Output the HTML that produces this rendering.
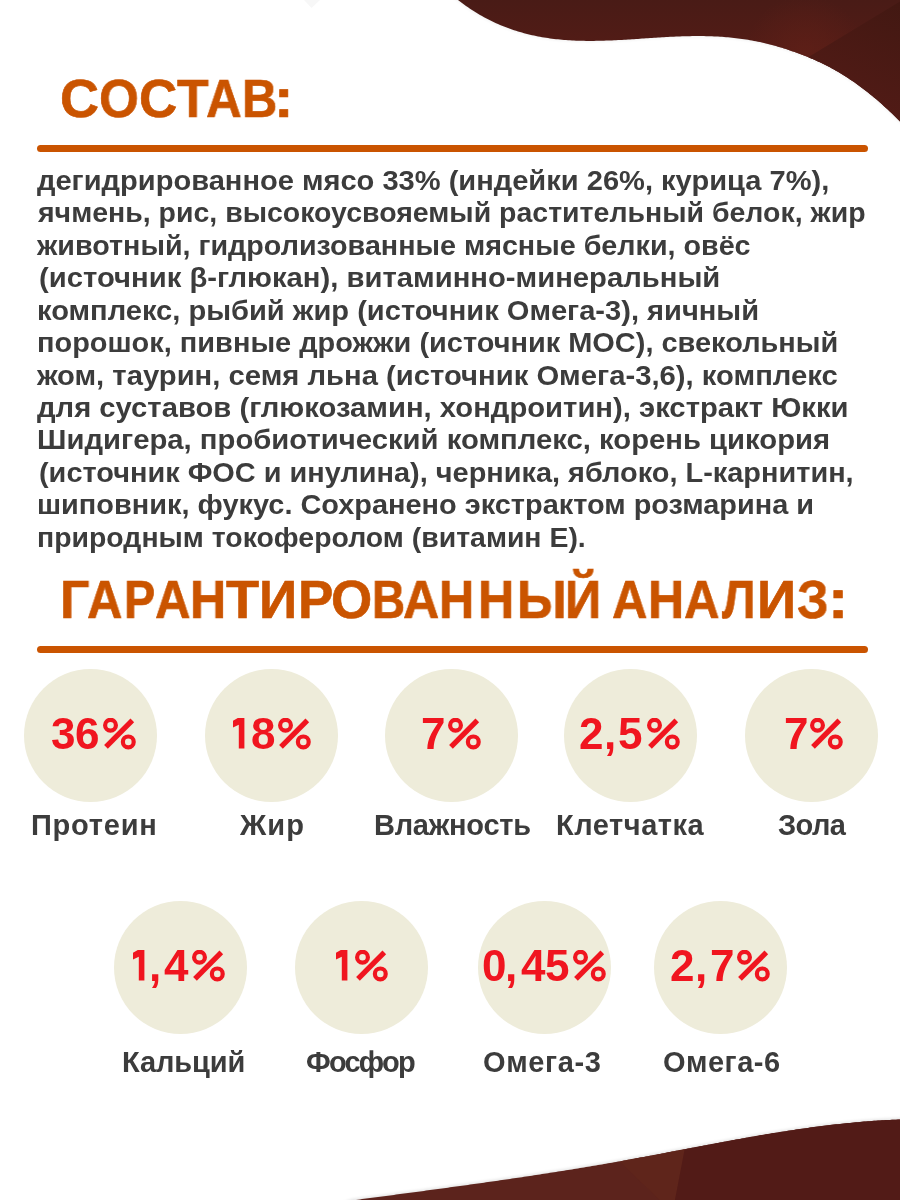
<!DOCTYPE html>
<html><head><meta charset="utf-8">
<style>
html,body{margin:0;padding:0;background:#fff;}
body{width:900px;height:1200px;position:relative;overflow:hidden;-webkit-font-smoothing:antialiased;font-family:"Liberation Sans",sans-serif;font-weight:bold;}
div,svg{position:absolute;}
.t,.l,.h,.p{will-change:transform;}
.h{white-space:nowrap;color:#CA5400;-webkit-text-stroke:0.6px #CA5400;font-size:53px;line-height:53px;transform-origin:0 0;}
.bar{left:37px;width:831px;height:7px;border-radius:3.5px;background:#CA5400;}
.t{font-size:28px;line-height:28px;color:#3c3c3c;white-space:nowrap;}
.c{width:133px;height:133px;border-radius:50%;background:#EEECDA;}
.p{color:#F0151F;white-space:nowrap;font-size:44px;line-height:44px;}
.l{color:#3c3c3c;white-space:nowrap;}
</style></head><body>
<svg style="left:0;top:0" width="900" height="1200" viewBox="0 0 900 1200">
  <defs>
   <linearGradient id="gt" gradientUnits="userSpaceOnUse" x1="0" y1="0" x2="0" y2="60"><stop offset="0" stop-color="#491B16"/><stop offset="1" stop-color="#551C16"/></linearGradient>
   <radialGradient id="gh" gradientUnits="userSpaceOnUse" cx="805" cy="55" r="60"><stop offset="0" stop-color="#5E1F17" stop-opacity="0.9"/><stop offset="1" stop-color="#5E1F17" stop-opacity="0"/></radialGradient>
   <linearGradient id="gd" gradientUnits="userSpaceOnUse" x1="900" y1="0" x2="850" y2="110"><stop offset="0" stop-color="#421812"/><stop offset="1" stop-color="#521B16"/></linearGradient>
   <filter id="sh" x="-5%" y="-50%" width="110%" height="200%"><feGaussianBlur stdDeviation="1.6"/></filter>
   <clipPath id="ct"><path d="M450.0,-5.00 456.0,-1.47 458.0,0.10 460.0,1.62 462.0,3.12 464.0,4.57 466.0,5.99 468.0,7.37 470.0,8.72 472.0,10.03 474.0,11.30 476.0,12.54 478.0,13.75 480.0,14.92 482.0,16.06 484.0,17.17 486.0,18.25 488.0,19.29 490.0,20.30 492.0,21.28 494.0,22.23 496.0,23.15 498.0,24.04 500.0,24.91 502.0,25.74 504.0,26.55 506.0,27.32 508.0,28.08 510.0,28.80 512.0,29.50 514.0,30.17 516.0,30.82 518.0,31.44 520.0,32.04 522.0,32.61 524.0,33.16 526.0,33.69 528.0,34.19 530.0,34.67 532.0,35.13 534.0,35.57 536.0,35.99 538.0,36.39 540.0,36.77 542.0,37.13 544.0,37.47 546.0,37.79 548.0,38.09 550.0,38.38 552.0,38.65 554.0,38.90 556.0,39.13 558.0,39.35 560.0,39.55 562.0,39.74 564.0,39.91 566.0,40.06 568.0,40.20 570.0,40.33 572.0,40.44 574.0,40.54 576.0,40.63 578.0,40.70 580.0,40.77 582.0,40.82 584.0,40.86 586.0,40.88 588.0,40.90 590.0,40.91 592.0,40.90 594.0,40.89 596.0,40.86 598.0,40.83 600.0,40.79 602.0,40.74 604.0,40.69 606.0,40.62 608.0,40.55 610.0,40.47 612.0,40.39 614.0,40.30 616.0,40.20 618.0,40.10 620.0,40.00 622.0,39.89 624.0,39.77 626.0,39.66 628.0,39.53 630.0,39.41 632.0,39.28 634.0,39.15 636.0,39.02 638.0,38.89 640.0,38.76 642.0,38.62 644.0,38.49 646.0,38.35 648.0,38.22 650.0,38.08 652.0,37.95 654.0,37.82 656.0,37.69 658.0,37.56 660.0,37.44 662.0,37.32 664.0,37.20 666.0,37.09 668.0,36.97 670.0,36.87 672.0,36.77 674.0,36.67 676.0,36.58 678.0,36.50 680.0,36.42 682.0,36.35 684.0,36.28 686.0,36.23 688.0,36.18 690.0,36.14 692.0,36.10 694.0,36.08 696.0,36.07 698.0,36.06 700.0,36.07 702.0,36.08 704.0,36.11 706.0,36.15 708.0,36.20 710.0,36.26 712.0,36.33 714.0,36.41 716.0,36.51 718.0,36.61 720.0,36.73 722.0,36.87 724.0,37.01 726.0,37.17 728.0,37.34 730.0,37.53 732.0,37.73 734.0,37.94 736.0,38.17 738.0,38.41 740.0,38.67 742.0,38.94 744.0,39.23 746.0,39.53 748.0,39.85 750.0,40.18 752.0,40.53 754.0,40.90 756.0,41.28 758.0,41.68 760.0,42.10 762.0,42.53 764.0,42.99 766.0,43.45 768.0,43.94 770.0,44.45 772.0,44.97 774.0,45.51 776.0,46.07 778.0,46.65 780.0,47.24 782.0,47.85 784.0,48.48 786.0,49.12 788.0,49.77 790.0,50.45 792.0,51.13 794.0,51.83 796.0,52.55 798.0,53.27 800.0,54.01 802.0,54.77 804.0,55.53 806.0,56.32 808.0,57.11 810.0,57.93 812.0,58.76 814.0,59.62 816.0,60.50 818.0,61.40 820.0,62.32 822.0,63.27 824.0,64.24 826.0,65.25 828.0,66.28 830.0,67.33 832.0,68.41 834.0,69.52 836.0,70.66 838.0,71.82 840.0,73.02 842.0,74.23 844.0,75.48 846.0,76.75 848.0,78.05 850.0,79.38 852.0,80.73 854.0,82.11 856.0,83.52 858.0,84.96 860.0,86.42 862.0,87.91 864.0,89.43 866.0,90.97 868.0,92.55 870.0,94.15 872.0,95.77 874.0,97.43 876.0,99.11 878.0,100.83 880.0,102.57 882.0,104.33 884.0,106.13 886.0,107.95 888.0,109.80 890.0,111.68 892.0,113.59 894.0,115.52 896.0,117.48 898.0,119.47 900.0,121.49 L905,125 L905,-5 Z"/></clipPath>
   <clipPath id="cb"><path d="M340.0,1205.00 352.0,1200.44 354.0,1200.17 356.0,1199.91 358.0,1199.64 360.0,1199.38 362.0,1199.11 364.0,1198.85 366.0,1198.58 368.0,1198.32 370.0,1198.05 372.0,1197.79 374.0,1197.52 376.0,1197.26 378.0,1196.99 380.0,1196.73 382.0,1196.47 384.0,1196.20 386.0,1195.94 388.0,1195.67 390.0,1195.41 392.0,1195.14 394.0,1194.88 396.0,1194.61 398.0,1194.35 400.0,1194.08 402.0,1193.81 404.0,1193.55 406.0,1193.28 408.0,1193.02 410.0,1192.75 412.0,1192.48 414.0,1192.22 416.0,1191.95 418.0,1191.68 420.0,1191.41 422.0,1191.15 424.0,1190.88 426.0,1190.61 428.0,1190.34 430.0,1190.07 432.0,1189.80 434.0,1189.53 436.0,1189.26 438.0,1188.99 440.0,1188.72 442.0,1188.45 444.0,1188.18 446.0,1187.90 448.0,1187.63 450.0,1187.36 452.0,1187.08 454.0,1186.81 456.0,1186.54 458.0,1186.26 460.0,1185.98 462.0,1185.71 464.0,1185.43 466.0,1185.15 468.0,1184.88 470.0,1184.60 472.0,1184.32 474.0,1184.04 476.0,1183.76 478.0,1183.48 480.0,1183.20 482.0,1182.92 484.0,1182.63 486.0,1182.35 488.0,1182.07 490.0,1181.78 492.0,1181.50 494.0,1181.21 496.0,1180.92 498.0,1180.64 500.0,1180.35 502.0,1180.06 504.0,1179.77 506.0,1179.48 508.0,1179.19 510.0,1178.90 512.0,1178.60 514.0,1178.31 516.0,1178.01 518.0,1177.72 520.0,1177.42 522.0,1177.13 524.0,1176.83 526.0,1176.53 528.0,1176.23 530.0,1175.93 532.0,1175.63 534.0,1175.32 536.0,1175.02 538.0,1174.71 540.0,1174.41 542.0,1174.10 544.0,1173.80 546.0,1173.49 548.0,1173.18 550.0,1172.87 552.0,1172.55 554.0,1172.24 556.0,1171.93 558.0,1171.61 560.0,1171.30 562.0,1170.98 564.0,1170.66 566.0,1170.34 568.0,1170.02 570.0,1169.70 572.0,1169.38 574.0,1169.05 576.0,1168.73 578.0,1168.40 580.0,1168.07 582.0,1167.74 584.0,1167.41 586.0,1167.08 588.0,1166.75 590.0,1166.42 592.0,1166.08 594.0,1165.74 596.0,1165.41 598.0,1165.07 600.0,1164.73 602.0,1164.38 604.0,1164.04 606.0,1163.70 608.0,1163.35 610.0,1163.00 612.0,1162.65 614.0,1162.30 616.0,1161.95 618.0,1161.60 620.0,1161.24 622.0,1160.89 624.0,1160.53 626.0,1160.17 628.0,1159.81 630.0,1159.45 632.0,1159.08 634.0,1158.72 636.0,1158.35 638.0,1157.99 640.0,1157.62 642.0,1157.25 644.0,1156.88 646.0,1156.51 648.0,1156.13 650.0,1155.76 652.0,1155.39 654.0,1155.01 656.0,1154.64 658.0,1154.26 660.0,1153.88 662.0,1153.50 664.0,1153.13 666.0,1152.75 668.0,1152.37 670.0,1151.99 672.0,1151.61 674.0,1151.23 676.0,1150.85 678.0,1150.47 680.0,1150.09 682.0,1149.71 684.0,1149.33 686.0,1148.95 688.0,1148.57 690.0,1148.18 692.0,1147.80 694.0,1147.42 696.0,1147.05 698.0,1146.67 700.0,1146.29 702.0,1145.91 704.0,1145.53 706.0,1145.15 708.0,1144.78 710.0,1144.40 712.0,1144.03 714.0,1143.65 716.0,1143.28 718.0,1142.91 720.0,1142.53 722.0,1142.16 724.0,1141.79 726.0,1141.42 728.0,1141.06 730.0,1140.69 732.0,1140.33 734.0,1139.96 736.0,1139.60 738.0,1139.24 740.0,1138.88 742.0,1138.52 744.0,1138.16 746.0,1137.81 748.0,1137.46 750.0,1137.10 752.0,1136.75 754.0,1136.41 756.0,1136.06 758.0,1135.72 760.0,1135.37 762.0,1135.03 764.0,1134.70 766.0,1134.36 768.0,1134.03 770.0,1133.70 772.0,1133.37 774.0,1133.04 776.0,1132.72 778.0,1132.39 780.0,1132.07 782.0,1131.76 784.0,1131.44 786.0,1131.13 788.0,1130.82 790.0,1130.52 792.0,1130.21 794.0,1129.91 796.0,1129.62 798.0,1129.32 800.0,1129.03 802.0,1128.74 804.0,1128.46 806.0,1128.17 808.0,1127.89 810.0,1127.62 812.0,1127.35 814.0,1127.08 816.0,1126.81 818.0,1126.55 820.0,1126.29 822.0,1126.04 824.0,1125.79 826.0,1125.54 828.0,1125.30 830.0,1125.06 832.0,1124.82 834.0,1124.59 836.0,1124.36 838.0,1124.14 840.0,1123.92 842.0,1123.70 844.0,1123.49 846.0,1123.28 848.0,1123.08 850.0,1122.88 852.0,1122.69 854.0,1122.50 856.0,1122.31 858.0,1122.13 860.0,1121.95 862.0,1121.78 864.0,1121.62 866.0,1121.45 868.0,1121.30 870.0,1121.14 872.0,1121.00 874.0,1120.85 876.0,1120.72 878.0,1120.58 880.0,1120.46 882.0,1120.33 884.0,1120.22 886.0,1120.11 888.0,1120.00 890.0,1119.90 892.0,1119.80 894.0,1119.71 896.0,1119.63 898.0,1119.55 900.0,1119.48 L905,1119 L905,1205 Z"/></clipPath>
  </defs>
  <path d="M304,0 L320,0 L311.5,8 Z" fill="#f7f7f7"/>
  <path d="M450.0,-5.00 456.0,-1.47 458.0,0.10 460.0,1.62 462.0,3.12 464.0,4.57 466.0,5.99 468.0,7.37 470.0,8.72 472.0,10.03 474.0,11.30 476.0,12.54 478.0,13.75 480.0,14.92 482.0,16.06 484.0,17.17 486.0,18.25 488.0,19.29 490.0,20.30 492.0,21.28 494.0,22.23 496.0,23.15 498.0,24.04 500.0,24.91 502.0,25.74 504.0,26.55 506.0,27.32 508.0,28.08 510.0,28.80 512.0,29.50 514.0,30.17 516.0,30.82 518.0,31.44 520.0,32.04 522.0,32.61 524.0,33.16 526.0,33.69 528.0,34.19 530.0,34.67 532.0,35.13 534.0,35.57 536.0,35.99 538.0,36.39 540.0,36.77 542.0,37.13 544.0,37.47 546.0,37.79 548.0,38.09 550.0,38.38 552.0,38.65 554.0,38.90 556.0,39.13 558.0,39.35 560.0,39.55 562.0,39.74 564.0,39.91 566.0,40.06 568.0,40.20 570.0,40.33 572.0,40.44 574.0,40.54 576.0,40.63 578.0,40.70 580.0,40.77 582.0,40.82 584.0,40.86 586.0,40.88 588.0,40.90 590.0,40.91 592.0,40.90 594.0,40.89 596.0,40.86 598.0,40.83 600.0,40.79 602.0,40.74 604.0,40.69 606.0,40.62 608.0,40.55 610.0,40.47 612.0,40.39 614.0,40.30 616.0,40.20 618.0,40.10 620.0,40.00 622.0,39.89 624.0,39.77 626.0,39.66 628.0,39.53 630.0,39.41 632.0,39.28 634.0,39.15 636.0,39.02 638.0,38.89 640.0,38.76 642.0,38.62 644.0,38.49 646.0,38.35 648.0,38.22 650.0,38.08 652.0,37.95 654.0,37.82 656.0,37.69 658.0,37.56 660.0,37.44 662.0,37.32 664.0,37.20 666.0,37.09 668.0,36.97 670.0,36.87 672.0,36.77 674.0,36.67 676.0,36.58 678.0,36.50 680.0,36.42 682.0,36.35 684.0,36.28 686.0,36.23 688.0,36.18 690.0,36.14 692.0,36.10 694.0,36.08 696.0,36.07 698.0,36.06 700.0,36.07 702.0,36.08 704.0,36.11 706.0,36.15 708.0,36.20 710.0,36.26 712.0,36.33 714.0,36.41 716.0,36.51 718.0,36.61 720.0,36.73 722.0,36.87 724.0,37.01 726.0,37.17 728.0,37.34 730.0,37.53 732.0,37.73 734.0,37.94 736.0,38.17 738.0,38.41 740.0,38.67 742.0,38.94 744.0,39.23 746.0,39.53 748.0,39.85 750.0,40.18 752.0,40.53 754.0,40.90 756.0,41.28 758.0,41.68 760.0,42.10 762.0,42.53 764.0,42.99 766.0,43.45 768.0,43.94 770.0,44.45 772.0,44.97 774.0,45.51 776.0,46.07 778.0,46.65 780.0,47.24 782.0,47.85 784.0,48.48 786.0,49.12 788.0,49.77 790.0,50.45 792.0,51.13 794.0,51.83 796.0,52.55 798.0,53.27 800.0,54.01 802.0,54.77 804.0,55.53 806.0,56.32 808.0,57.11 810.0,57.93 812.0,58.76 814.0,59.62 816.0,60.50 818.0,61.40 820.0,62.32 822.0,63.27 824.0,64.24 826.0,65.25 828.0,66.28 830.0,67.33 832.0,68.41 834.0,69.52 836.0,70.66 838.0,71.82 840.0,73.02 842.0,74.23 844.0,75.48 846.0,76.75 848.0,78.05 850.0,79.38 852.0,80.73 854.0,82.11 856.0,83.52 858.0,84.96 860.0,86.42 862.0,87.91 864.0,89.43 866.0,90.97 868.0,92.55 870.0,94.15 872.0,95.77 874.0,97.43 876.0,99.11 878.0,100.83 880.0,102.57 882.0,104.33 884.0,106.13 886.0,107.95 888.0,109.80 890.0,111.68 892.0,113.59 894.0,115.52 896.0,117.48 898.0,119.47 900.0,121.49 L905,125 L905,-5 Z" fill="#000" opacity="0.05" filter="url(#sh)" transform="translate(-0.5,1)"/>
  <path d="M450.0,-5.00 456.0,-1.47 458.0,0.10 460.0,1.62 462.0,3.12 464.0,4.57 466.0,5.99 468.0,7.37 470.0,8.72 472.0,10.03 474.0,11.30 476.0,12.54 478.0,13.75 480.0,14.92 482.0,16.06 484.0,17.17 486.0,18.25 488.0,19.29 490.0,20.30 492.0,21.28 494.0,22.23 496.0,23.15 498.0,24.04 500.0,24.91 502.0,25.74 504.0,26.55 506.0,27.32 508.0,28.08 510.0,28.80 512.0,29.50 514.0,30.17 516.0,30.82 518.0,31.44 520.0,32.04 522.0,32.61 524.0,33.16 526.0,33.69 528.0,34.19 530.0,34.67 532.0,35.13 534.0,35.57 536.0,35.99 538.0,36.39 540.0,36.77 542.0,37.13 544.0,37.47 546.0,37.79 548.0,38.09 550.0,38.38 552.0,38.65 554.0,38.90 556.0,39.13 558.0,39.35 560.0,39.55 562.0,39.74 564.0,39.91 566.0,40.06 568.0,40.20 570.0,40.33 572.0,40.44 574.0,40.54 576.0,40.63 578.0,40.70 580.0,40.77 582.0,40.82 584.0,40.86 586.0,40.88 588.0,40.90 590.0,40.91 592.0,40.90 594.0,40.89 596.0,40.86 598.0,40.83 600.0,40.79 602.0,40.74 604.0,40.69 606.0,40.62 608.0,40.55 610.0,40.47 612.0,40.39 614.0,40.30 616.0,40.20 618.0,40.10 620.0,40.00 622.0,39.89 624.0,39.77 626.0,39.66 628.0,39.53 630.0,39.41 632.0,39.28 634.0,39.15 636.0,39.02 638.0,38.89 640.0,38.76 642.0,38.62 644.0,38.49 646.0,38.35 648.0,38.22 650.0,38.08 652.0,37.95 654.0,37.82 656.0,37.69 658.0,37.56 660.0,37.44 662.0,37.32 664.0,37.20 666.0,37.09 668.0,36.97 670.0,36.87 672.0,36.77 674.0,36.67 676.0,36.58 678.0,36.50 680.0,36.42 682.0,36.35 684.0,36.28 686.0,36.23 688.0,36.18 690.0,36.14 692.0,36.10 694.0,36.08 696.0,36.07 698.0,36.06 700.0,36.07 702.0,36.08 704.0,36.11 706.0,36.15 708.0,36.20 710.0,36.26 712.0,36.33 714.0,36.41 716.0,36.51 718.0,36.61 720.0,36.73 722.0,36.87 724.0,37.01 726.0,37.17 728.0,37.34 730.0,37.53 732.0,37.73 734.0,37.94 736.0,38.17 738.0,38.41 740.0,38.67 742.0,38.94 744.0,39.23 746.0,39.53 748.0,39.85 750.0,40.18 752.0,40.53 754.0,40.90 756.0,41.28 758.0,41.68 760.0,42.10 762.0,42.53 764.0,42.99 766.0,43.45 768.0,43.94 770.0,44.45 772.0,44.97 774.0,45.51 776.0,46.07 778.0,46.65 780.0,47.24 782.0,47.85 784.0,48.48 786.0,49.12 788.0,49.77 790.0,50.45 792.0,51.13 794.0,51.83 796.0,52.55 798.0,53.27 800.0,54.01 802.0,54.77 804.0,55.53 806.0,56.32 808.0,57.11 810.0,57.93 812.0,58.76 814.0,59.62 816.0,60.50 818.0,61.40 820.0,62.32 822.0,63.27 824.0,64.24 826.0,65.25 828.0,66.28 830.0,67.33 832.0,68.41 834.0,69.52 836.0,70.66 838.0,71.82 840.0,73.02 842.0,74.23 844.0,75.48 846.0,76.75 848.0,78.05 850.0,79.38 852.0,80.73 854.0,82.11 856.0,83.52 858.0,84.96 860.0,86.42 862.0,87.91 864.0,89.43 866.0,90.97 868.0,92.55 870.0,94.15 872.0,95.77 874.0,97.43 876.0,99.11 878.0,100.83 880.0,102.57 882.0,104.33 884.0,106.13 886.0,107.95 888.0,109.80 890.0,111.68 892.0,113.59 894.0,115.52 896.0,117.48 898.0,119.47 900.0,121.49 L905,125 L905,-5 Z" fill="url(#gt)"/>
  <g clip-path="url(#ct)"><rect x="700" y="0" width="200" height="130" fill="url(#gh)"/><path d="M790,70 L811,55.5 L900,1.5 L900,200 L790,200 Z" fill="url(#gd)"/></g>
  <path d="M340.0,1205.00 352.0,1200.44 354.0,1200.17 356.0,1199.91 358.0,1199.64 360.0,1199.38 362.0,1199.11 364.0,1198.85 366.0,1198.58 368.0,1198.32 370.0,1198.05 372.0,1197.79 374.0,1197.52 376.0,1197.26 378.0,1196.99 380.0,1196.73 382.0,1196.47 384.0,1196.20 386.0,1195.94 388.0,1195.67 390.0,1195.41 392.0,1195.14 394.0,1194.88 396.0,1194.61 398.0,1194.35 400.0,1194.08 402.0,1193.81 404.0,1193.55 406.0,1193.28 408.0,1193.02 410.0,1192.75 412.0,1192.48 414.0,1192.22 416.0,1191.95 418.0,1191.68 420.0,1191.41 422.0,1191.15 424.0,1190.88 426.0,1190.61 428.0,1190.34 430.0,1190.07 432.0,1189.80 434.0,1189.53 436.0,1189.26 438.0,1188.99 440.0,1188.72 442.0,1188.45 444.0,1188.18 446.0,1187.90 448.0,1187.63 450.0,1187.36 452.0,1187.08 454.0,1186.81 456.0,1186.54 458.0,1186.26 460.0,1185.98 462.0,1185.71 464.0,1185.43 466.0,1185.15 468.0,1184.88 470.0,1184.60 472.0,1184.32 474.0,1184.04 476.0,1183.76 478.0,1183.48 480.0,1183.20 482.0,1182.92 484.0,1182.63 486.0,1182.35 488.0,1182.07 490.0,1181.78 492.0,1181.50 494.0,1181.21 496.0,1180.92 498.0,1180.64 500.0,1180.35 502.0,1180.06 504.0,1179.77 506.0,1179.48 508.0,1179.19 510.0,1178.90 512.0,1178.60 514.0,1178.31 516.0,1178.01 518.0,1177.72 520.0,1177.42 522.0,1177.13 524.0,1176.83 526.0,1176.53 528.0,1176.23 530.0,1175.93 532.0,1175.63 534.0,1175.32 536.0,1175.02 538.0,1174.71 540.0,1174.41 542.0,1174.10 544.0,1173.80 546.0,1173.49 548.0,1173.18 550.0,1172.87 552.0,1172.55 554.0,1172.24 556.0,1171.93 558.0,1171.61 560.0,1171.30 562.0,1170.98 564.0,1170.66 566.0,1170.34 568.0,1170.02 570.0,1169.70 572.0,1169.38 574.0,1169.05 576.0,1168.73 578.0,1168.40 580.0,1168.07 582.0,1167.74 584.0,1167.41 586.0,1167.08 588.0,1166.75 590.0,1166.42 592.0,1166.08 594.0,1165.74 596.0,1165.41 598.0,1165.07 600.0,1164.73 602.0,1164.38 604.0,1164.04 606.0,1163.70 608.0,1163.35 610.0,1163.00 612.0,1162.65 614.0,1162.30 616.0,1161.95 618.0,1161.60 620.0,1161.24 622.0,1160.89 624.0,1160.53 626.0,1160.17 628.0,1159.81 630.0,1159.45 632.0,1159.08 634.0,1158.72 636.0,1158.35 638.0,1157.99 640.0,1157.62 642.0,1157.25 644.0,1156.88 646.0,1156.51 648.0,1156.13 650.0,1155.76 652.0,1155.39 654.0,1155.01 656.0,1154.64 658.0,1154.26 660.0,1153.88 662.0,1153.50 664.0,1153.13 666.0,1152.75 668.0,1152.37 670.0,1151.99 672.0,1151.61 674.0,1151.23 676.0,1150.85 678.0,1150.47 680.0,1150.09 682.0,1149.71 684.0,1149.33 686.0,1148.95 688.0,1148.57 690.0,1148.18 692.0,1147.80 694.0,1147.42 696.0,1147.05 698.0,1146.67 700.0,1146.29 702.0,1145.91 704.0,1145.53 706.0,1145.15 708.0,1144.78 710.0,1144.40 712.0,1144.03 714.0,1143.65 716.0,1143.28 718.0,1142.91 720.0,1142.53 722.0,1142.16 724.0,1141.79 726.0,1141.42 728.0,1141.06 730.0,1140.69 732.0,1140.33 734.0,1139.96 736.0,1139.60 738.0,1139.24 740.0,1138.88 742.0,1138.52 744.0,1138.16 746.0,1137.81 748.0,1137.46 750.0,1137.10 752.0,1136.75 754.0,1136.41 756.0,1136.06 758.0,1135.72 760.0,1135.37 762.0,1135.03 764.0,1134.70 766.0,1134.36 768.0,1134.03 770.0,1133.70 772.0,1133.37 774.0,1133.04 776.0,1132.72 778.0,1132.39 780.0,1132.07 782.0,1131.76 784.0,1131.44 786.0,1131.13 788.0,1130.82 790.0,1130.52 792.0,1130.21 794.0,1129.91 796.0,1129.62 798.0,1129.32 800.0,1129.03 802.0,1128.74 804.0,1128.46 806.0,1128.17 808.0,1127.89 810.0,1127.62 812.0,1127.35 814.0,1127.08 816.0,1126.81 818.0,1126.55 820.0,1126.29 822.0,1126.04 824.0,1125.79 826.0,1125.54 828.0,1125.30 830.0,1125.06 832.0,1124.82 834.0,1124.59 836.0,1124.36 838.0,1124.14 840.0,1123.92 842.0,1123.70 844.0,1123.49 846.0,1123.28 848.0,1123.08 850.0,1122.88 852.0,1122.69 854.0,1122.50 856.0,1122.31 858.0,1122.13 860.0,1121.95 862.0,1121.78 864.0,1121.62 866.0,1121.45 868.0,1121.30 870.0,1121.14 872.0,1121.00 874.0,1120.85 876.0,1120.72 878.0,1120.58 880.0,1120.46 882.0,1120.33 884.0,1120.22 886.0,1120.11 888.0,1120.00 890.0,1119.90 892.0,1119.80 894.0,1119.71 896.0,1119.63 898.0,1119.55 900.0,1119.48 L905,1119 L905,1205 Z" fill="#000" opacity="0.10" filter="url(#sh)" transform="translate(0,-1.5)"/>
  <path d="M340.0,1205.00 352.0,1200.44 354.0,1200.17 356.0,1199.91 358.0,1199.64 360.0,1199.38 362.0,1199.11 364.0,1198.85 366.0,1198.58 368.0,1198.32 370.0,1198.05 372.0,1197.79 374.0,1197.52 376.0,1197.26 378.0,1196.99 380.0,1196.73 382.0,1196.47 384.0,1196.20 386.0,1195.94 388.0,1195.67 390.0,1195.41 392.0,1195.14 394.0,1194.88 396.0,1194.61 398.0,1194.35 400.0,1194.08 402.0,1193.81 404.0,1193.55 406.0,1193.28 408.0,1193.02 410.0,1192.75 412.0,1192.48 414.0,1192.22 416.0,1191.95 418.0,1191.68 420.0,1191.41 422.0,1191.15 424.0,1190.88 426.0,1190.61 428.0,1190.34 430.0,1190.07 432.0,1189.80 434.0,1189.53 436.0,1189.26 438.0,1188.99 440.0,1188.72 442.0,1188.45 444.0,1188.18 446.0,1187.90 448.0,1187.63 450.0,1187.36 452.0,1187.08 454.0,1186.81 456.0,1186.54 458.0,1186.26 460.0,1185.98 462.0,1185.71 464.0,1185.43 466.0,1185.15 468.0,1184.88 470.0,1184.60 472.0,1184.32 474.0,1184.04 476.0,1183.76 478.0,1183.48 480.0,1183.20 482.0,1182.92 484.0,1182.63 486.0,1182.35 488.0,1182.07 490.0,1181.78 492.0,1181.50 494.0,1181.21 496.0,1180.92 498.0,1180.64 500.0,1180.35 502.0,1180.06 504.0,1179.77 506.0,1179.48 508.0,1179.19 510.0,1178.90 512.0,1178.60 514.0,1178.31 516.0,1178.01 518.0,1177.72 520.0,1177.42 522.0,1177.13 524.0,1176.83 526.0,1176.53 528.0,1176.23 530.0,1175.93 532.0,1175.63 534.0,1175.32 536.0,1175.02 538.0,1174.71 540.0,1174.41 542.0,1174.10 544.0,1173.80 546.0,1173.49 548.0,1173.18 550.0,1172.87 552.0,1172.55 554.0,1172.24 556.0,1171.93 558.0,1171.61 560.0,1171.30 562.0,1170.98 564.0,1170.66 566.0,1170.34 568.0,1170.02 570.0,1169.70 572.0,1169.38 574.0,1169.05 576.0,1168.73 578.0,1168.40 580.0,1168.07 582.0,1167.74 584.0,1167.41 586.0,1167.08 588.0,1166.75 590.0,1166.42 592.0,1166.08 594.0,1165.74 596.0,1165.41 598.0,1165.07 600.0,1164.73 602.0,1164.38 604.0,1164.04 606.0,1163.70 608.0,1163.35 610.0,1163.00 612.0,1162.65 614.0,1162.30 616.0,1161.95 618.0,1161.60 620.0,1161.24 622.0,1160.89 624.0,1160.53 626.0,1160.17 628.0,1159.81 630.0,1159.45 632.0,1159.08 634.0,1158.72 636.0,1158.35 638.0,1157.99 640.0,1157.62 642.0,1157.25 644.0,1156.88 646.0,1156.51 648.0,1156.13 650.0,1155.76 652.0,1155.39 654.0,1155.01 656.0,1154.64 658.0,1154.26 660.0,1153.88 662.0,1153.50 664.0,1153.13 666.0,1152.75 668.0,1152.37 670.0,1151.99 672.0,1151.61 674.0,1151.23 676.0,1150.85 678.0,1150.47 680.0,1150.09 682.0,1149.71 684.0,1149.33 686.0,1148.95 688.0,1148.57 690.0,1148.18 692.0,1147.80 694.0,1147.42 696.0,1147.05 698.0,1146.67 700.0,1146.29 702.0,1145.91 704.0,1145.53 706.0,1145.15 708.0,1144.78 710.0,1144.40 712.0,1144.03 714.0,1143.65 716.0,1143.28 718.0,1142.91 720.0,1142.53 722.0,1142.16 724.0,1141.79 726.0,1141.42 728.0,1141.06 730.0,1140.69 732.0,1140.33 734.0,1139.96 736.0,1139.60 738.0,1139.24 740.0,1138.88 742.0,1138.52 744.0,1138.16 746.0,1137.81 748.0,1137.46 750.0,1137.10 752.0,1136.75 754.0,1136.41 756.0,1136.06 758.0,1135.72 760.0,1135.37 762.0,1135.03 764.0,1134.70 766.0,1134.36 768.0,1134.03 770.0,1133.70 772.0,1133.37 774.0,1133.04 776.0,1132.72 778.0,1132.39 780.0,1132.07 782.0,1131.76 784.0,1131.44 786.0,1131.13 788.0,1130.82 790.0,1130.52 792.0,1130.21 794.0,1129.91 796.0,1129.62 798.0,1129.32 800.0,1129.03 802.0,1128.74 804.0,1128.46 806.0,1128.17 808.0,1127.89 810.0,1127.62 812.0,1127.35 814.0,1127.08 816.0,1126.81 818.0,1126.55 820.0,1126.29 822.0,1126.04 824.0,1125.79 826.0,1125.54 828.0,1125.30 830.0,1125.06 832.0,1124.82 834.0,1124.59 836.0,1124.36 838.0,1124.14 840.0,1123.92 842.0,1123.70 844.0,1123.49 846.0,1123.28 848.0,1123.08 850.0,1122.88 852.0,1122.69 854.0,1122.50 856.0,1122.31 858.0,1122.13 860.0,1121.95 862.0,1121.78 864.0,1121.62 866.0,1121.45 868.0,1121.30 870.0,1121.14 872.0,1121.00 874.0,1120.85 876.0,1120.72 878.0,1120.58 880.0,1120.46 882.0,1120.33 884.0,1120.22 886.0,1120.11 888.0,1120.00 890.0,1119.90 892.0,1119.80 894.0,1119.71 896.0,1119.63 898.0,1119.55 900.0,1119.48 L905,1119 L905,1205 Z" fill="#5C231C"/>
  <g clip-path="url(#cb)"><path d="M620.7,1162.5 L618,1100 L690,1100 L684.4,1151 L675,1200 L659.5,1200 Z" fill="#5F251B"/>
  <path d="M684.4,1151 L690,1100 L905,1100 L905,1205 L675,1205 L675,1200 Z" fill="#521B17"/></g>
</svg>
<div class="h" style="left:59.72px;top:71.9px;transform:scaleX(1.02);">С</div>
<div class="h" style="left:98.93px;top:71.9px;transform:scaleX(0.967);">О</div>
<div class="h" style="left:139.07px;top:71.9px;transform:scaleX(0.997);">С</div>
<div class="h" style="left:176.64px;top:71.9px;transform:scaleX(0.981);">Т</div>
<div class="h" style="left:206.49px;top:71.9px;transform:scaleX(0.933);">А</div>
<div class="h" style="left:242.28px;top:71.9px;transform:scaleX(0.923);">В</div>
<div class="h" style="left:274.31px;top:71.9px;transform:scaleX(1.105);">:</div>
<div class="bar" style="top:145px;"></div>
<div class="t" style="left:37.33px;top:166.8px;transform:scaleX(1.0381);transform-origin:0 0;">дегидрированное мясо 33% (индейки 26%, курица 7%),</div>
<div class="t" style="left:37.69px;top:199.25px;transform:scaleX(1.017);transform-origin:0 0;">ячмень, рис, высокоусвояемый растительный белок, жир</div>
<div class="t" style="left:37.44px;top:231.7px;transform:scaleX(1.0248);transform-origin:0 0;">животный, гидролизованные мясные белки, овёс</div>
<div class="t" style="left:38.84px;top:264.15px;transform:scaleX(1.0442);transform-origin:0 0;">(источник β-глюкан), витаминно-минеральный</div>
<div class="t" style="left:37.16px;top:296.6px;transform:scaleX(1.0387);transform-origin:0 0;">комплекс, рыбий жир (источник Омега-3), яичный</div>
<div class="t" style="left:37.14px;top:329.05px;transform:scaleX(1.0334);transform-origin:0 0;">порошок, пивные дрожжи (источник МОС), свекольный</div>
<div class="t" style="left:37.44px;top:361.5px;transform:scaleX(1.044);transform-origin:0 0;">жом, таурин, семя льна (источник Омега-3,6), комплекс</div>
<div class="t" style="left:37.33px;top:393.95px;transform:scaleX(1.044);transform-origin:0 0;">для суставов (глюкозамин, хондроитин), экстракт Юкки</div>
<div class="t" style="left:37.17px;top:426.4px;transform:scaleX(1.0451);transform-origin:0 0;">Шидигера, пробиотический комплекс, корень цикория</div>
<div class="t" style="left:38.85px;top:458.85px;transform:scaleX(1.0322);transform-origin:0 0;">(источник ФОС и инулина), черника, яблоко, L-карнитин,</div>
<div class="t" style="left:37.15px;top:491.3px;transform:scaleX(1.0323);transform-origin:0 0;">шиповник, фукус. Сохранено экстрактом розмарина и</div>
<div class="t" style="left:37.18px;top:523.75px;transform:scaleX(1.015);transform-origin:0 0;">природным токоферолом (витамин Е).</div>
<div class="h" style="left:60.37px;top:572.9px;transform:scaleX(0.98);">Г</div>
<div class="h" style="left:87.4px;top:572.9px;transform:scaleX(0.925);">А</div>
<div class="h" style="left:123.72px;top:572.9px;transform:scaleX(0.883);">Р</div>
<div class="h" style="left:155.0px;top:572.9px;transform:scaleX(0.928);">А</div>
<div class="h" style="left:190.19px;top:572.9px;transform:scaleX(0.946);">Н</div>
<div class="h" style="left:225.51px;top:572.9px;transform:scaleX(1.022);">Т</div>
<div class="h" style="left:259.24px;top:572.9px;transform:scaleX(1.003);">И</div>
<div class="h" style="left:298.45px;top:572.9px;transform:scaleX(0.987);">Р</div>
<div class="h" style="left:330.98px;top:572.9px;transform:scaleX(0.991);">О</div>
<div class="h" style="left:371.98px;top:572.9px;transform:scaleX(0.867);">В</div>
<div class="h" style="left:403.27px;top:572.9px;transform:scaleX(0.948);">А</div>
<div class="h" style="left:439.49px;top:572.9px;transform:scaleX(0.921);">Н</div>
<div class="h" style="left:478.18px;top:572.9px;transform:scaleX(0.95);">Н</div>
<div class="h" style="left:517.16px;top:572.9px;transform:scaleX(0.956);">Ы</div>
<div class="h" style="left:565.42px;top:572.9px;transform:scaleX(0.951);">Й</div>
<div class="h" style="left:612.2px;top:572.9px;transform:scaleX(0.925);">А</div>
<div class="h" style="left:648.29px;top:572.9px;transform:scaleX(0.946);">Н</div>
<div class="h" style="left:683.7px;top:572.9px;transform:scaleX(0.928);">А</div>
<div class="h" style="left:721.57px;top:572.9px;transform:scaleX(0.903);">Л</div>
<div class="h" style="left:756.85px;top:572.9px;transform:scaleX(1.028);">И</div>
<div class="h" style="left:797.3px;top:572.9px;transform:scaleX(0.951);">З</div>
<div class="h" style="left:827.81px;top:572.9px;transform:scaleX(1.145);">:</div>
<div class="bar" style="top:646px;"></div>
<div class="c" style="left:24px;top:669px;"></div>
<div class="c" style="left:205px;top:669px;"></div>
<div class="c" style="left:385px;top:669px;"></div>
<div class="c" style="left:564px;top:669px;"></div>
<div class="c" style="left:745px;top:669px;"></div>
<div class="c" style="left:114px;top:901px;"></div>
<div class="c" style="left:295px;top:901px;"></div>
<div class="c" style="left:478px;top:901px;"></div>
<div class="c" style="left:654px;top:901px;"></div>
<div class="p" style="left:50.8px;top:712.4px;">3</div>
<div class="p" style="left:74.95px;top:712.4px;">6</div>
<svg style="left:102.8px;top:718.1px" width="33" height="32" viewBox="0 0 33 32"><g fill="none" stroke="#F0151F"><circle cx="7.5" cy="7.2" r="5.4" stroke-width="4.2"/><circle cx="25.3" cy="23.9" r="5.4" stroke-width="4.2"/><line x1="3.0" y1="28.9" x2="29.3" y2="2.4" stroke-width="5.2"/></g></svg>
<svg style="left:232.6px;top:718.4px" width="12" height="31" viewBox="0 0 12 31"><polygon points="0,2.8 4.8,0 11.4,0 11.4,30.6 5.8,30.6 5.8,6.8 0,9.4" fill="#F0151F"/></svg>
<div class="p" style="left:250.8px;top:712.4px;">8</div>
<svg style="left:277.8px;top:718.1px" width="33" height="32" viewBox="0 0 33 32"><g fill="none" stroke="#F0151F"><circle cx="7.5" cy="7.2" r="5.4" stroke-width="4.2"/><circle cx="25.3" cy="23.9" r="5.4" stroke-width="4.2"/><line x1="3.0" y1="28.9" x2="29.3" y2="2.4" stroke-width="5.2"/></g></svg>
<div class="p" style="left:421.46px;top:712.4px;">7</div>
<svg style="left:447.7px;top:718.1px" width="33" height="32" viewBox="0 0 33 32"><g fill="none" stroke="#F0151F"><circle cx="7.5" cy="7.2" r="5.4" stroke-width="4.2"/><circle cx="25.3" cy="23.9" r="5.4" stroke-width="4.2"/><line x1="3.0" y1="28.9" x2="29.3" y2="2.4" stroke-width="5.2"/></g></svg>
<div class="p" style="left:579.37px;top:712.4px;">2</div>
<div class="p" style="left:603.93px;top:712.4px;">,</div>
<div class="p" style="left:618.07px;top:712.4px;">5</div>
<svg style="left:647px;top:718.1px" width="33" height="32" viewBox="0 0 33 32"><g fill="none" stroke="#F0151F"><circle cx="7.5" cy="7.2" r="5.4" stroke-width="4.2"/><circle cx="25.3" cy="23.9" r="5.4" stroke-width="4.2"/><line x1="3.0" y1="28.9" x2="29.3" y2="2.4" stroke-width="5.2"/></g></svg>
<div class="p" style="left:783.56px;top:712.4px;">7</div>
<svg style="left:809.8px;top:718.1px" width="33" height="32" viewBox="0 0 33 32"><g fill="none" stroke="#F0151F"><circle cx="7.5" cy="7.2" r="5.4" stroke-width="4.2"/><circle cx="25.3" cy="23.9" r="5.4" stroke-width="4.2"/><line x1="3.0" y1="28.9" x2="29.3" y2="2.4" stroke-width="5.2"/></g></svg>
<svg style="left:133.3px;top:950.3px" width="12" height="31" viewBox="0 0 12 31"><polygon points="0,2.8 4.8,0 11.4,0 11.4,30.6 5.8,30.6 5.8,6.8 0,9.4" fill="#F0151F"/></svg>
<div class="p" style="left:149.43px;top:944.3px;">,</div>
<div class="p" style="left:164.33px;top:944.3px;">4</div>
<svg style="left:191.6px;top:950.0px" width="33" height="32" viewBox="0 0 33 32"><g fill="none" stroke="#F0151F"><circle cx="7.5" cy="7.2" r="5.4" stroke-width="4.2"/><circle cx="25.3" cy="23.9" r="5.4" stroke-width="4.2"/><line x1="3.0" y1="28.9" x2="29.3" y2="2.4" stroke-width="5.2"/></g></svg>
<svg style="left:335.8px;top:950.3px" width="12" height="31" viewBox="0 0 12 31"><polygon points="0,2.8 4.8,0 11.4,0 11.4,30.6 5.8,30.6 5.8,6.8 0,9.4" fill="#F0151F"/></svg>
<svg style="left:354.7px;top:950.0px" width="33" height="32" viewBox="0 0 33 32"><g fill="none" stroke="#F0151F"><circle cx="7.5" cy="7.2" r="5.4" stroke-width="4.2"/><circle cx="25.3" cy="23.9" r="5.4" stroke-width="4.2"/><line x1="3.0" y1="28.9" x2="29.3" y2="2.4" stroke-width="5.2"/></g></svg>
<div class="p" style="left:481.75px;top:944.3px;">0</div>
<div class="p" style="left:505.03px;top:944.3px;">,</div>
<div class="p" style="left:521.33px;top:944.3px;">4</div>
<div class="p" style="left:544.87px;top:944.3px;">5</div>
<svg style="left:573px;top:950.0px" width="33" height="32" viewBox="0 0 33 32"><g fill="none" stroke="#F0151F"><circle cx="7.5" cy="7.2" r="5.4" stroke-width="4.2"/><circle cx="25.3" cy="23.9" r="5.4" stroke-width="4.2"/><line x1="3.0" y1="28.9" x2="29.3" y2="2.4" stroke-width="5.2"/></g></svg>
<div class="p" style="left:670.47px;top:944.3px;">2</div>
<div class="p" style="left:694.93px;top:944.3px;">,</div>
<div class="p" style="left:710.46px;top:944.3px;">7</div>
<svg style="left:737.1px;top:950.0px" width="33" height="32" viewBox="0 0 33 32"><g fill="none" stroke="#F0151F"><circle cx="7.5" cy="7.2" r="5.4" stroke-width="4.2"/><circle cx="25.3" cy="23.9" r="5.4" stroke-width="4.2"/><line x1="3.0" y1="28.9" x2="29.3" y2="2.4" stroke-width="5.2"/></g></svg>
<div class="l" style="left:31.24px;top:811.0px;font-size:29px;line-height:29px;letter-spacing:0.753px;">Протеин</div>
<div class="l" style="left:239.83px;top:811.0px;font-size:29px;line-height:29px;letter-spacing:1.115px;">Жир</div>
<div class="l" style="left:374.04px;top:811.0px;font-size:29px;line-height:29px;letter-spacing:-0.25px;">Влажность</div>
<div class="l" style="left:556.04px;top:811.0px;font-size:29px;line-height:29px;letter-spacing:0.53px;">Клетчатка</div>
<div class="l" style="left:777.78px;top:811.0px;font-size:29px;line-height:29px;letter-spacing:-0.573px;">Зола</div>
<div class="l" style="left:122.04px;top:1048.0px;font-size:29px;line-height:29px;letter-spacing:-0.113px;">Кальций</div>
<div class="l" style="left:306.26px;top:1048.0px;font-size:29px;line-height:29px;letter-spacing:-1.78px;">Фосфор</div>
<div class="l" style="left:483.0px;top:1048.0px;font-size:29px;line-height:29px;letter-spacing:0.62px;">Омега-3</div>
<div class="l" style="left:662.6px;top:1048.0px;font-size:29px;line-height:29px;letter-spacing:0.482px;">Омега-6</div>
</body></html>
